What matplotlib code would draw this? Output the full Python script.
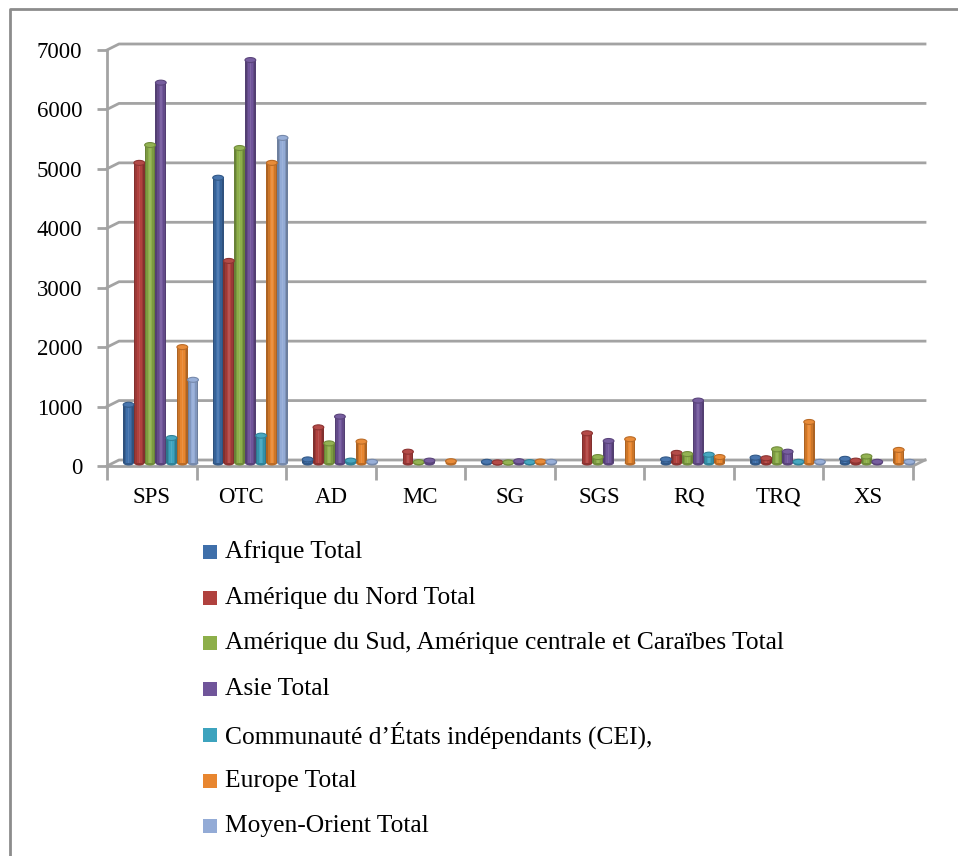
import numpy as np
import matplotlib
matplotlib.use("Agg")
import matplotlib.pyplot as plt
import matplotlib.colors as mcolors
from matplotlib.patches import Rectangle, Ellipse
from matplotlib.lines import Line2D
from matplotlib.transforms import ScaledTranslation, IdentityTransform

plt.rcParams["font.family"] = ["Liberation Serif", "DejaVu Serif"]

categories = ["SPS", "OTC", "AD", "MC", "SG", "SGS", "RQ", "TRQ", "XS"]
regions = [
    "Afrique Total",
    "Amérique du Nord Total",
    "Amérique du Sud, Amérique centrale et Caraïbes Total",
    "Asie Total",
    "Communauté d’États indépendants (CEI),",
    "Europe Total",
    "Moyen-Orient Total",
]
afrique = [980, 4800, 60, 0, 20, 0, 60, 90, 70]
amerique_nord = [5050, 3400, 600, 190, 10, 500, 170, 80, 40]
amerique_sud = [5350, 5300, 330, 15, 10, 100, 150, 230, 110]
asie = [6400, 6780, 780, 40, 30, 370, 1050, 190, 20]
cei = [420, 460, 40, 0, 15, 0, 140, 20, 0]
europe = [1950, 5050, 360, 30, 25, 400, 100, 690, 220]
moyen_orient = [1400, 5470, 20, 0, 20, 0, 0, 20, 20]
series = [afrique, amerique_nord, amerique_sud, asie, cei, europe, moyen_orient]
colors = ["#3F6FAA", "#B0413E", "#8DAF4A", "#70559A", "#3DA3BE", "#E8862F", "#93ABD6"]
yticks = [0, 1000, 2000, 3000, 4000, 5000, 6000, 7000]

DPI = 100
W, H = 958, 856
GRID = "#A3A3A3"
DEPTH = (12, 6)  # back wall offset, px


def shade(c, f):
    r, g, b = mcolors.to_rgb(c)
    if f >= 1:
        return tuple(x + (1 - x) * (f - 1) for x in (r, g, b))
    return tuple(x * f for x in (r, g, b))


fig = plt.figure(figsize=(W / DPI, H / DPI), dpi=DPI)
ax = fig.add_axes([107 / W, (H - 466) / H, 806 / W, 416 / H])
ax.set_xlim(-0.5, len(categories) - 0.5)
ax.set_ylim(0, 7000)
ax.patch.set_visible(False)
for s in ("top", "right"):
    ax.spines[s].set_visible(False)
for s in ("left", "bottom"):
    ax.spines[s].set_color(GRID)
    ax.spines[s].set_linewidth(2)

ax.set_yticks(yticks)
ax.set_yticklabels([str(v) for v in yticks], fontsize=16.5)
ax.tick_params(axis="y", length=7, width=2, color=GRID, pad=11)
ax.set_xticks(range(len(categories)))
ax.set_xticklabels(categories, fontsize=16.5)
ax.set_xticks(np.arange(-0.5, len(categories)), minor=True)
ax.tick_params(axis="x", which="major", length=0, pad=15)
ax.tick_params(axis="x", which="minor", length=10, width=2, color=GRID)

# back wall gridlines, floor and the short diagonals joining them to the front axis
dx, dy = DEPTH
x0, x1 = ax.get_xlim()
for v in yticks:
    px0, py0 = ax.transData.transform((x0, v))
    px1, _ = ax.transData.transform((x1, v))
    ax.add_line(Line2D([px0, px0 + dx, px1 + dx], [py0, py0 + dy, py0 + dy],
                       transform=IdentityTransform(), color=GRID, lw=2,
                       clip_on=False, zorder=1))
px1, py1 = ax.transData.transform((x1, 0))
ax.add_line(Line2D([px1, px1 + dx], [py1, py1 + dy], transform=IdentityTransform(),
                   color=GRID, lw=2, clip_on=False, zorder=1))

# cylinder-ish columns sitting halfway into the depth
bar_tr = ax.transData + ScaledTranslation(5 / DPI, 3 / DPI, fig.dpi_scale_trans)
bw = 0.12
x = np.arange(len(categories))
strips = [0.74, 0.88, 1.0, 1.1, 1.0, 0.88, 0.74]
sw = bw / len(strips)
cap_h = 5 / (416 / 7000)
for i, (vals, c) in enumerate(zip(series, colors)):
    xc = x + 0.045 + (i - 3) * bw
    for j, f in enumerate(strips):
        left = xc - bw / 2 + j * sw
        for xl, v in zip(left, vals):
            ax.add_patch(Rectangle((xl, 0), sw * 1.02, v, facecolor=shade(c, f),
                                   edgecolor="none", transform=bar_tr, zorder=3,
                                   clip_on=False))
    for xi, v in zip(xc, vals):
        if v <= 0:
            continue
        ax.add_patch(Ellipse((xi, 0), bw, cap_h, facecolor=shade(c, 0.8),
                             edgecolor="none", transform=bar_tr, zorder=2.9,
                             clip_on=False))
        ax.add_patch(Ellipse((xi, v), bw, cap_h, facecolor=shade(c, 1.05),
                             edgecolor=shade(c, 0.8), lw=0.8, transform=bar_tr,
                             zorder=3.1, clip_on=False))

# legend stacked under the plot
for k, (name, c) in enumerate(zip(regions, colors)):
    yc = H - (552 + k * 45.7)
    fig.patches.append(Rectangle((203 / W, (yc - 7) / H), 14 / W, 14 / H,
                                 facecolor=c, edgecolor="none",
                                 transform=fig.transFigure, figure=fig))
    fig.text(225 / W, yc / H, name, fontsize=18.4, va="center", ha="left")

# chart frame
fig.add_artist(Line2D([10 / W, 10 / W, 1], [0, 1 - 9 / H, 1 - 9 / H],
                      transform=fig.transFigure, color="#8C8C8C", lw=2))

fig.savefig("out.png", dpi=DPI, facecolor="white")
